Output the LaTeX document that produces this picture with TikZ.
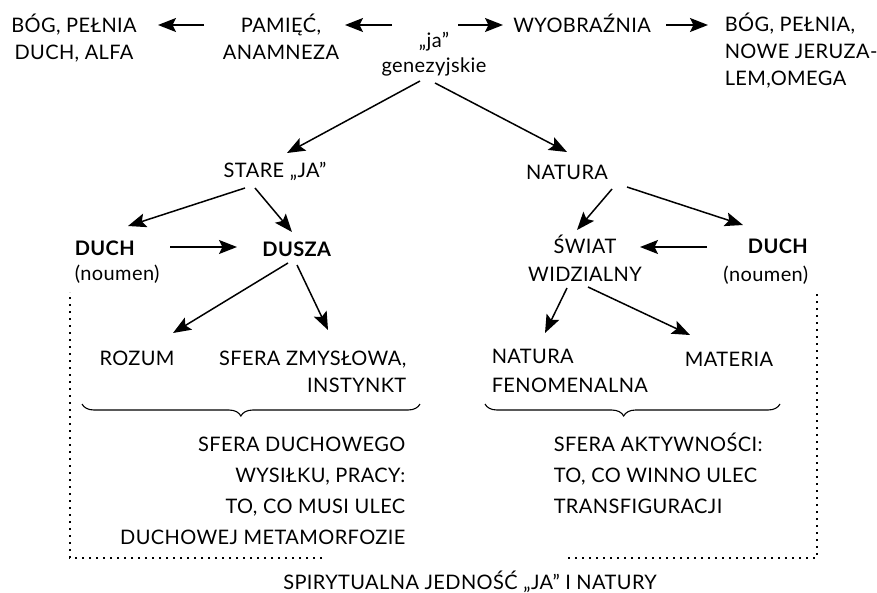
\documentclass[tikz,border=0pt]{standalone}
\usepackage{fontspec}
\setmainfont{Lato}[LetterSpace=2]
\usetikzlibrary{arrows.meta,decorations.pathreplacing}

\begin{document}
\begin{tikzpicture}[x=1pt,y=-1pt]
%% Draw scheme of the "ja" and nature
   \useasboundingbox (0,0) rectangle (877,592);
   \begin{scope}[line width=1.5pt,>={Stealth[length=18pt,width=14pt,inset=3.5pt]},
		every node/.style={inner sep=1pt,font=\fontsize{20}{27}\selectfont},
		lbl/.style={anchor=base,align=center},
		lbll/.style={anchor=base west,align=left},
		lblr/.style={anchor=base east,align=right},
		wide/.style={font=\fontsize{20}{30.7}\selectfont},
		sep/.style={line width=1.8pt,dash pattern=on 1.8pt off 5.2pt},
		brc/.style={decorate,line width=1.1pt,decoration={brace,mirror,amplitude=12pt,aspect=0.47}}]
   %% top row
   \node [lbl]	(bogA)	at (74,59)	{BÓG, PEŁNIA\\DUCH, ALFA};
   \node [lbl]	(pam)	at (281,59)	{PAMIĘĆ,\\ANAMNEZA};
   \node [lbl,font=\fontsize{20}{25}\selectfont] (gen) at (434,72) {„ja”\\genezyjskie};
   \node [lbl]	(wyo)	at (582,32)	{WYOBRAŹNIA};
   \node [lbll]	(bogO)	at (723,85)	{BÓG, PEŁNIA,\\NOWE JERUZA-\\LEM,OMEGA};
   %% middle
   \node [lbl]	(stare)	at (275,177)	{STARE „JA”};
   \node [lbl]	(nat)	at (567,179)	{NATURA};
   \node [lbll,font=\fontsize{20}{25}\selectfont] (duchL) at (73,280) {\textbf{DUCH}\\(noumen)};
   \node [lbl]	(dusza)	at (297,256)	{\textbf{DUSZA}};
   \node [lbl,font=\fontsize{20}{28}\selectfont] (swiat) at (585,281) {ŚWIAT\\WIDZIALNY};
   \node [lblr,font=\fontsize{20}{28}\selectfont] (duchR) at (810,281) {\textbf{DUCH}\\(noumen)};
   %% bottom
   \node [lbl]	(rozum)	at (137,365)	{ROZUM};
   \node [lblr]	(zmysl)	at (408,392)	{SFERA ZMYSŁOWA,\\INSTYNKT};
   \node [lbll,font=\fontsize{20}{29}\selectfont] (natfen) at (490,392) {NATURA\\FENOMENALNA};
   \node [lbl]	(mat)	at (729,366)	{MATERIA};
   \node [lblr,wide]	(sferaL) at (407,544)	{SFERA DUCHOWEGO\\WYSIŁKU, PRACY:\\TO, CO MUSI ULEC\\DUCHOWEJ METAMORFOZIE};
   \node [lbll,wide]	(sferaR) at (552,513)	{SFERA AKTYWNOŚCI:\\TO, CO WINNO ULEC\\TRANSFIGURACJI};
   \node [lbl]	(jedn)	at (470,589)	{SPIRYTUALNA JEDNOŚĆ „JA” I NATURY};
   %% arrows
   \draw [->] ([shift={(-42,-47)}]gen.base) -- ([shift={(64,-34)}]pam.base);
   \draw [->] ([shift={(-77,-34)}]pam.base) -- ([shift={(84,-34)}]bogA.base);
   \draw [->] ([shift={(24,-47)}]gen.base) -- ([shift={(-79,-7)}]wyo.base);
   \draw [->] ([shift={(84,-7)}]wyo.base) -- ([shift={(-15,-60)}]bogO.base west);
   \draw [->] ([shift={(-14,9)}]gen.base) -- ([shift={(12,-24)}]stare.base);
   \draw [->] ([shift={(1,11)}]gen.base) -- ([shift={(0,-27)}]nat.base);
   \draw [->] ([shift={(-30,11)}]stare.base) -- ([shift={(55,-54)}]duchL.base west);
   \draw [->] ([shift={(-20,11)}]stare.base) -- ([shift={(-5,-24)}]dusza.base);
   \draw [->] ([shift={(97,-33)}]duchL.base west) -- ([shift={(-60,-9)}]dusza.base);
   \draw [->] ([shift={(-9,7)}]dusza.base) -- ([shift={(36,-32)}]rozum.base);
   \draw [->] ([shift={(0,9)}]dusza.base) -- ([shift={(-80,-62)}]zmysl.base east);
   \draw [->] ([shift={(45,10)}]nat.base) -- ([shift={(-8,-51)}]swiat.base);
   \draw [->] ([shift={(60,8)}]nat.base) -- ([shift={(-67,-56)}]duchR.base east);
   \draw [->] ([shift={(-103,-34)}]duchR.base east) -- ([shift={(55,-34)}]swiat.base);
   \draw [->] ([shift={(-18,7)}]swiat.base) -- ([shift={(55,-59)}]natfen.base west);
   \draw [->] ([shift={(3,6)}]swiat.base) -- ([shift={(-39,-31)}]mat.base);
   %% braces and dotted frame
   \draw [brc] (82,404) -- (420,404);
   \draw [brc] (485,404) -- (780,404);
   \draw [sep] (322,558) -| (70,292);
   \draw [sep] (568,558) -| (817,292);
   \end{scope}
\end{tikzpicture}
\end{document}
